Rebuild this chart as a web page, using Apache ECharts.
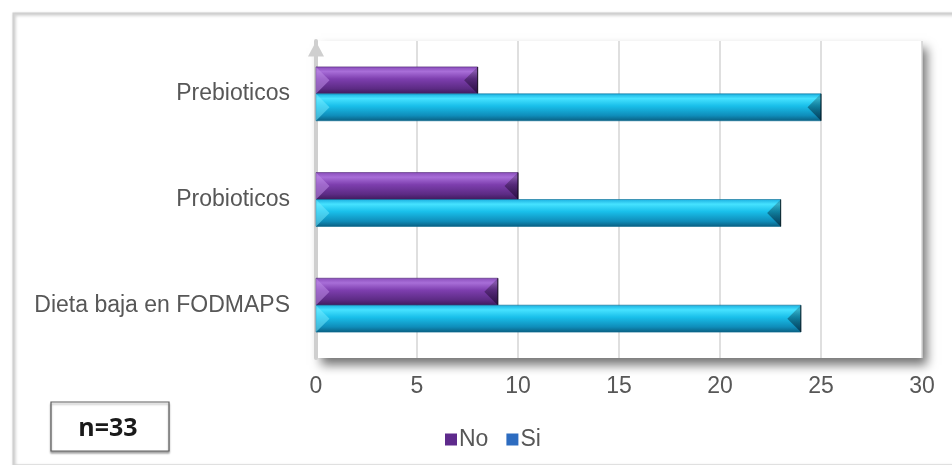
<!DOCTYPE html>
<html>
<head>
<meta charset="utf-8">
<script src="https://cdn.jsdelivr.net/npm/echarts@6/dist/echarts.min.js"></script>
<style>
  html, body { margin: 0; padding: 0; background: #ffffff; }
  #chart { width: 952px; height: 465px; }
</style>
</head>
<body>
<div id="chart"></div>
<script>
// Categories, bottom to top on the vertical axis
const categories = ['Dieta baja en FODMAPS', 'Probioticos', 'Prebioticos'];
const seriesNames = ['No', 'Si'];
const valuesNo = [9, 10, 8];
const valuesSi = [24, 23, 25];
const xTicks = [0, 5, 10, 15, 20, 25, 30];
const sampleNote = 'n=33';

const FONT = '"Liberation Sans", Arial, sans-serif';
const TEXT_COLOR = '#575757';

// Bevelled bar palettes: vertical gradient stops plus end caps
const palettes = [
  {
    stops: ['#8a4dbb', '#a86ed8', '#7d3eae', '#5c2b84', '#3e1a5c'],
    light: 'rgba(190,140,230,0.55)',
    dark: 'rgba(30,5,50,0.6)',
    edge: '#4a2270'
  },
  {
    stops: ['#1aaedf', '#46e2ff', '#19bfea', '#0f8dba', '#0a5e80'],
    light: 'rgba(120,235,255,0.5)',
    dark: 'rgba(0,30,50,0.6)',
    edge: '#0a6a90'
  }
];

function bevelBar(sIdx) {
  return function (params, api) {
    const cat = api.value(0);
    const val = api.value(1);
    const start = api.coord([0, cat]);
    const end = api.coord([val, cat]);
    const band = api.size([0, 1])[1];
    const h = band * 0.255;
    const x0 = start[0];
    const x1 = end[0];
    const y0 = start[1] + (sIdx === 0 ? -h : 0);
    const y1 = y0 + h;
    const ym = (y0 + y1) / 2;
    const b = Math.min(h / 2, (x1 - x0) / 2);
    const p = palettes[sIdx];
    const grad = new echarts.graphic.LinearGradient(0, 0, 0, 1, [
      { offset: 0, color: p.stops[0] },
      { offset: 0.18, color: p.stops[1] },
      { offset: 0.45, color: p.stops[2] },
      { offset: 0.8, color: p.stops[3] },
      { offset: 1, color: p.stops[4] }
    ]);
    return {
      type: 'group',
      children: [
        {
          type: 'rect',
          shape: { x: x0, y: y0, width: x1 - x0, height: h },
          style: { fill: grad, stroke: p.edge, lineWidth: 0.6 }
        },
        {
          type: 'polygon',
          shape: { points: [[x0, y0], [x0 + b, ym], [x0, y1]] },
          style: { fill: p.light }
        },
        {
          type: 'polygon',
          shape: { points: [[x1, y0], [x1 - b, ym], [x1, y1]] },
          style: {
            fill: new echarts.graphic.LinearGradient(0, 0, 0, 1, [
              { offset: 0, color: 'rgba(0,0,0,0.15)' },
              { offset: 1, color: p.dark }
            ])
          }
        },
        {
          type: 'line',
          shape: { x1: x1, y1: y0, x2: x1, y2: y1 },
          style: { stroke: 'rgba(0,0,0,0.6)', lineWidth: 1.2 }
        }
      ]
    };
  };
}

function seriesData(values) {
  return values.map((v, i) => [i, v]);
}

const chart = echarts.init(document.getElementById('chart'), null, { renderer: 'canvas' });

chart.setOption({
  animation: false,
  backgroundColor: '#ffffff',
  textStyle: { fontFamily: FONT },
  grid: {
    show: true,
    left: 316,
    right: 30,
    top: 41,
    bottom: 107,
    backgroundColor: '#ffffff',
    borderWidth: 0,
    shadowColor: 'rgba(0,0,0,0.55)',
    shadowBlur: 10,
    shadowOffsetX: 5,
    shadowOffsetY: 7
  },
  legend: {
    data: [
      { name: seriesNames[0], itemStyle: { color: '#5e2a8c' } },
      { name: seriesNames[1], itemStyle: { color: '#2d6cc0' } }
    ],
    left: 440,
    top: 423,
    icon: 'rect',
    itemWidth: 12,
    itemHeight: 12,
    itemGap: 18,
    textStyle: { fontSize: 23, color: TEXT_COLOR, fontFamily: FONT, padding: [0, 0, 0, -3] }
  },
  xAxis: {
    type: 'value',
    min: xTicks[0],
    max: xTicks[xTicks.length - 1],
    interval: xTicks[1] - xTicks[0],
    axisLine: { show: false },
    axisTick: { show: false },
    splitLine: { show: true, lineStyle: { color: '#d4d4d4', width: 1.5 } },
    axisLabel: { fontSize: 23, color: TEXT_COLOR, margin: 17, fontFamily: FONT }
  },
  yAxis: {
    type: 'category',
    data: categories,
    axisLine: {
      show: true,
      lineStyle: { color: '#cfcfcf', width: 4 },
      symbol: ['none', 'triangle'],
      symbolSize: [16, 15],
      symbolOffset: [0, -8]
    },
    axisTick: { show: false },
    axisLabel: { fontSize: 23, color: TEXT_COLOR, margin: 26, fontFamily: FONT }
  },
  series: [
    {
      name: seriesNames[0],
      type: 'custom',
      itemStyle: { color: '#5e2a8c' },
      encode: { x: 1, y: 0 },
      renderItem: bevelBar(0),
      data: seriesData(valuesNo),
      z: 3
    },
    {
      name: seriesNames[1],
      type: 'custom',
      itemStyle: { color: '#2d6cc0' },
      encode: { x: 1, y: 0 },
      renderItem: bevelBar(1),
      data: seriesData(valuesSi),
      z: 3
    }
  ],
  graphic: [
    {
      type: 'rect',
      left: 11,
      top: 11,
      shape: { x: 0, y: 0, width: 960, height: 452 },
      style: {
        fill: 'none',
        stroke: '#d0d0d0',
        lineWidth: 2,
        shadowColor: 'rgba(0,0,0,0.25)',
        shadowBlur: 3,
        shadowOffsetX: 1,
        shadowOffsetY: 1
      },
      z: -1,
      silent: true
    },
    {
      type: 'rect',
      shape: { x: 51, y: 402, width: 118, height: 49 },
      style: {
        fill: '#ffffff',
        stroke: '#606060',
        lineWidth: 1.2,
        shadowColor: 'rgba(0,0,0,0.35)',
        shadowBlur: 2,
        shadowOffsetY: 2
      },
      silent: true
    },
    {
      type: 'text',
      x: 108,
      y: 429,
      style: {
        text: sampleNote,
        font: 'bold 25px "Open Sans", "Liberation Sans", sans-serif',
        fill: '#1a1a1a',
        textAlign: 'center',
        textVerticalAlign: 'middle'
      },
      silent: true
    }
  ]
});
</script>
</body>
</html>
